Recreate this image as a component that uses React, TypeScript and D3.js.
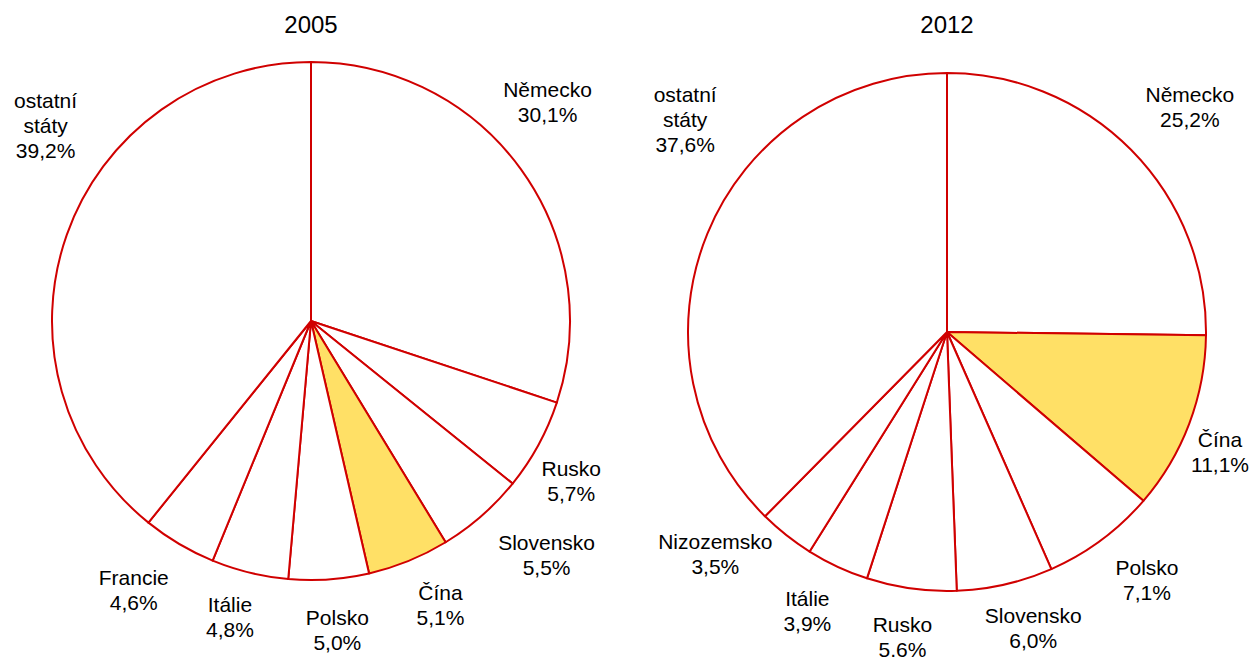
import React from "react";
import * as d3 from "d3";

const WIDTH = 1257;
const HEIGHT = 657;

const years = ["2005", "2012"];

// 2005
const countries2005 = ["Německo", "Rusko", "Slovensko", "Čína", "Polsko", "Itálie", "Francie", "ostatní státy"];
const values2005 = [30.1, 5.7, 5.5, 5.1, 5.0, 4.8, 4.6, 39.2];

// 2012
const countries2012 = ["Německo", "Čína", "Polsko", "Slovensko", "Rusko", "Itálie", "Nizozemsko", "ostatní státy"];
const values2012 = [25.2, 11.1, 7.1, 6.0, 5.6, 3.9, 3.5, 37.6];

const HIGHLIGHT = "Čína";

// label nudges from the default outside position (manual placement in the original)
const nudge2005 = [[-14, -38], [-11, 12], [32, 2], [13, -2], [5, 1], [-8, -4], [-20, 3], [26, -93]];
const nudge2012 = [[23, -8], [-16, 11], [16, 0], [17, -5], [-2, -1], [-9, -1], [-40, -20], [24, -95]];

const RED = "#d00000";
const YELLOW = "#ffe066";
const FONT = "'Liberation Sans', Arial, sans-serif";

const pies = [
  { year: years[0], names: countries2005, values: values2005, nudge: nudge2005, cx: 311, cy: 321 },
  { year: years[1], names: countries2012, values: values2012, nudge: nudge2012, cx: 947, cy: 332 },
];

const R = 259;
const LABEL_R = R + 50;

const fmt = (v: number) => v.toFixed(1).replace(".", ",") + "%";

const Pie = ({ p }: { p: typeof pies[0] }) => {
  const data = p.names.map((n, i) => ({ name: n, value: p.values[i] }));
  const arcs = d3.pie<any>().sort(null).value((d) => d.value)(data);
  const arc = d3.arc<any>().innerRadius(0).outerRadius(R);

  return (
    <g>
      <text x={p.cx} y={33} textAnchor="middle" fontSize={24} fontFamily={FONT} fill="#000">
        {p.year}
      </text>
      <g transform={`translate(${p.cx},${p.cy})`}>
        {arcs.map((a, i) => (
          <path
            key={i}
            d={arc(a) || ""}
            fill={a.data.name === HIGHLIGHT ? YELLOW : "#fff"}
            stroke={RED}
            strokeWidth={2}
            strokeLinejoin="round"
          />
        ))}
        {arcs.map((a, i) => {
          const mid = (a.startAngle + a.endAngle) / 2;
          const x = Math.sin(mid) * LABEL_R + p.nudge[i][0];
          const y = -Math.cos(mid) * LABEL_R + p.nudge[i][1];
          const lines = a.data.name === "ostatní státy" ? ["ostatní", "státy", fmt(a.data.value)] : [a.data.name, fmt(a.data.value)];
          const n = lines.length;
          return (
            <text key={"l" + i} textAnchor="middle" fontSize={21} fontFamily={FONT} fill="#000">
              {lines.map((t, j) => (
                <tspan key={j} x={x} y={y + (j - (n - 1) / 2) * 25 + 7.5}>
                  {t}
                </tspan>
              ))}
            </text>
          );
        })}
      </g>
    </g>
  );
};

export default function App() {
  return (
    <svg width={WIDTH} height={HEIGHT} style={{ position: "absolute", left: 0, top: 0, background: "#fff" }}>
      {pies.map((p) => (
        <Pie key={p.year} p={p} />
      ))}
    </svg>
  );
}
